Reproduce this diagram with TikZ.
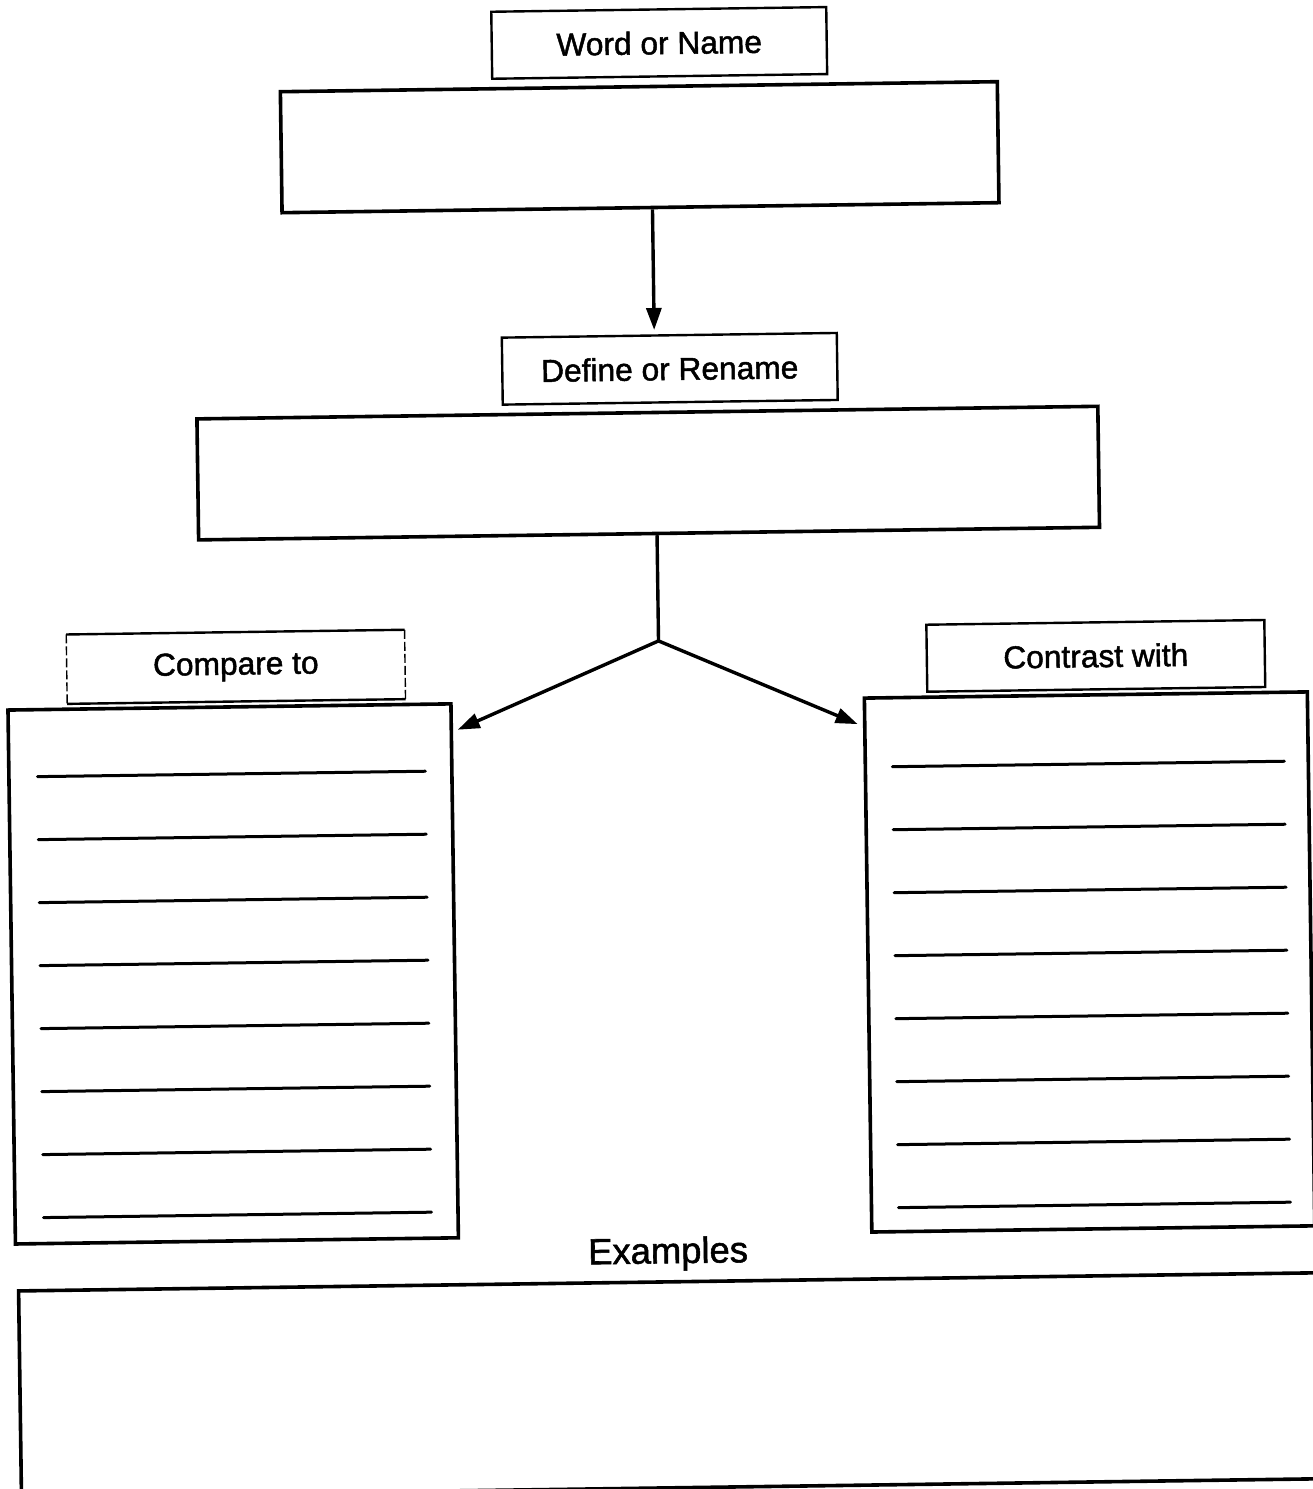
\documentclass[tikz,border=0pt]{standalone}
\usepackage{fontspec}
\setmainfont{Liberation Sans}
\newfontfamily\formfont{Liberation Sans}[FakeBold=1.5]
\usetikzlibrary{arrows.meta,calc}
\begin{document}
\begin{tikzpicture}[x=1pt,y=-1pt,
  labelbox/.style={draw, line width=2.4pt, inner sep=0pt,
    minimum height=67pt, font=\formfont\fontsize{31.7}{38}\selectfont},
  bigbox/.style={draw, line width=3.6pt, inner sep=0pt},
  rule/.style={line width=3pt, line cap=round},
  link/.style={line width=3.4pt},
  tip/.style={-{Triangle[length=22pt,width=15pt]}}
]
\useasboundingbox (0,0) rectangle (1313,1489);
\fill[white] (0,0) rectangle (1313,1489);
\clip (0,0) rectangle (1313,1489);
% the sheet sits slightly skewed
\begin{scope}[rotate around={0.8:(656,744)}, transform shape]
  % term
  \node[labelbox, minimum width=335pt] (wordlbl) at (669,43) {Word or Name};
  \node[bigbox, minimum width=717pt, minimum height=121pt] (wordbox) at (648,147) {};
  % definition
  \coordinate (dtip) at (660,330);
  \draw[link,tip] (wordbox.south -| dtip) -- (dtip);
  \node[labelbox, minimum width=335pt] (deflbl) at (675,369) {Define or Rename};
  \node[bigbox, minimum width=901pt, minimum height=121pt] (defbox) at (652,473) {};
  % fork to the two lists
  \coordinate (fork) at (660,641);
  \coordinate (ltip) at (458,727);
  \coordinate (rtip) at (858,727);
  \draw[link] (defbox.south -| fork) -- (fork);
  \draw[link,tip] (fork) -- (ltip);
  \draw[link,tip] (fork) -- (rtip);
  % compare list
  \node[labelbox, draw=none, minimum width=336pt] (cmplbl) at (237,661) {Compare to};
  \draw[line width=2.4pt] (cmplbl.north west) -- (cmplbl.north east)
                          (cmplbl.south west) -- (cmplbl.south east);
  \draw[line width=1.4pt, dash pattern=on 9pt off 3pt]
        (cmplbl.north west) -- (cmplbl.south west)
        (cmplbl.north east) -- (cmplbl.south east);
  \node[bigbox, minimum width=443pt, minimum height=534pt] (cmpbox) at (230,968) {};
  \foreach \k in {0,...,7}
    \draw[rule] (37,{768+63*\k}) -- (425,{768+63*\k});
  % contrast list
  \node[labelbox, minimum width=338pt] (ctrlbl) at (1097,662) {Contrast with};
  \node[bigbox, minimum width=443pt, minimum height=534pt] (ctrbox) at (1086.5,968) {};
  \foreach \k in {0,...,7}
    \draw[rule] (892,{770+63*\k}) -- (1284,{770+63*\k});
  % examples
  \node[font=\formfont\fontsize{36.4}{44}\selectfont] (exlbl) at (661,1254) {Examples};
  \node[bigbox, minimum width=1330pt, minimum height=206pt] (exbox) at (676,1385) {};
\end{scope}
\end{tikzpicture}
\end{document}
